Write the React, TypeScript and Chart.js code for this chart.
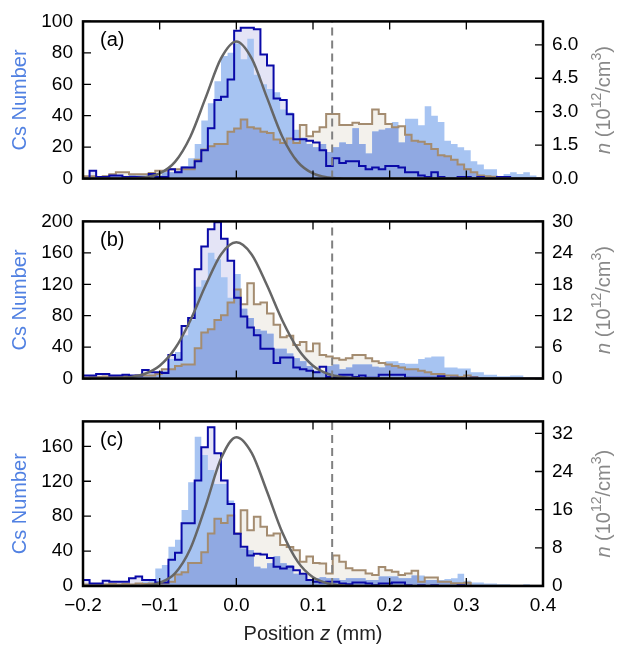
import React, { useEffect, useRef } from 'react';
import { Chart, registerables } from 'chart.js';

Chart.register(...registerables);
Chart.defaults.font.family = '"Liberation Sans", Arial, Helvetica, sans-serif';

// ---------- data ----------
const X_MIN = -0.2;
const X_MAX = 0.4;
const BIN_START = -0.2;
const BIN_WIDTH = 0.6 / 70;
const X_TICKS = [-0.2, -0.1, 0.0, 0.1, 0.2, 0.3, 0.4];
const DASH_X = 0.125;
const PANEL_LABELS = ['(a)', '(b)', '(c)'];

// Panel (a)
const A_CS = [1,2,1,2,3,2,1,3,2,2, 3,2,4,4,5,8,13,22,37,48, 62,78,80,86,76,89,66,60,57,55, 44,42,31,26,22,20,22,17,20,23, 22,32,22,16,30,31,32,36,23,38, 38,34,46,40,36,24,22,20,18,11, 9,6,6,1,3,4,3,4,2,0];
const A_LINE = [0,5,1,1,2,2,1,1,1,1, 3,1,1,6,4,7,7,11,18,32, 50,52,63,94,96,96,95,79,72,51, 50,41,25,25,24,23,18,8,13,10, 11,11,8,6,7,6,8,8,7,4, 4,2,1,4,1,0,0,1,1,0, 1,0,0,1,1,0,0,0,0,0];
const A_N = [0.1,0.1,0.05,0.1,0.2,0.28,0.28,0.2,0.2,0.2, 0.25,0.35,0.35,0.42,0.42,0.42,0.42,0.85,1.3,1.45, 1.55,1.55,2.1,2.25,2.65,2.3,2.25,2.1,2.05,1.75, 1.6,1.8,1.6,2.4,1.9,2.1,2.3,2.9,2.9,2.4, 2.4,2.5,2.45,2.45,3.1,2.9,2.45,2.3,2.35,1.97, 1.7,1.65,1.55,1.33,1.05,1.0,0.84,0.63,0.42,0.28, 0.14,0.1,0.08,0,0,0,0,0,0,0];

// Panel (b)
const B_CS = [1,2,2,3,2,2,3,2,3,5, 6,8,10,25,34,55,75,117,125,160, 152,129,103,133,89,77,63,61,57,38, 38,32,26,22,16,10,8,16,18,12, 14,18,18,18,15,14,22,22,20,19, 19,25,27,28,28,14,14,13,13,8, 8,5,5,3,3,4,4,1,2,0];
const B_LINE = [4,4,6,6,4,4,5,4,4,11, 8,8,7,30,24,67,77,139,168,190, 199,178,150,103,79,65,55,38,38,20, 27,27,14,12,10,8,15,2,2,5, 5,2,4,1,1,5,5,5,5,1, 1,1,1,1,3,0,1,0,0,1, 0,0,0,0,0,0,0,0,0,0];
const B_N = [0.2,0.3,0.3,0.4,0.3,0.4,0.5,0.5,0.6,0.6, 0.6,0.9,1.8,1.8,2.4,2.7,2.7,5.8,8.8,9.4, 11.2,12.1,14.5,17.0,14.2,18.2,14.2,14.5,12.4,10.3, 7.9,8.2,6.4,7.0,5.2,6.7,4.5,4.2,3.9,3.6, 3.9,4.5,4.5,3.9,3.3,3.0,2.7,2.4,2.1,1.8, 1.8,1.5,1.2,0.9,0.9,0.6,0.6,0.3,0.6,0.3, 0.1,0,0,0,0,0,0,0,0,0];

// Panel (c)
const C_CS = [2,3,1,2,2,2,3,1,3,5, 8,20,24,45,53,87,119,171,150,133, 117,117,98,60,43,41,22,20,26,34, 26,24,14,13,7,9,10,9,9,7, 9,9,9,7,7,11,11,11,9,9, 12,12,7,7,7,8,9,14,6,4, 4,3,3,2,2,1,1,2,0,0];
const C_LINE = [7,3,3,6,5,5,5,9,11,7, 7,4,4,30,38,72,72,121,159,182, 152,121,94,60,45,35,37,36,32,22, 20,22,18,14,7,5,4,5,5,3, 2,4,4,3,1,3,3,4,4,1, 0,1,0,1,0,0,0,1,0,0, 0,0,0,0,0,0,0,0,0,0];
const C_N = [0.3,0.3,0.2,0.3,0.4,0.3,0.4,0.3,0.5,0.4, 0.5,0.5,0.6,0.9,2.4,2.9,4.8,4.8,7.1,11, 14.1,13.2,14.8,11,15.9,11.7,14.5,12.4,10.6,11, 8.6,8.2,7.5,5.1,6.2,4.8,4.7,2.6,6.4,5.1, 3.7,3.3,3.3,2.6,2.3,4.0,3.3,3.0,2.3,2.6, 3.2,0.9,1.8,1.8,0.9,0.9,0.6,0.6,0.7,0, 0,0,0,0,0,0,0,0,0,0];

// Gaussian model curves (right-axis units)
const GAUSS_X = [-0.2,-0.16,-0.14,-0.12,-0.1,-0.08,-0.06,-0.04,-0.02,0,0.02,0.04,0.06,0.08,0.1,0.12,0.14,0.16,0.2,0.4];
const A_GAUSS = [0,0,0.01,0.05,0.23,0.75,1.88,3.63,5.39,6.15,5.39,3.63,1.88,0.75,0.23,0.05,0.01,0,0,0];
const B_GAUSS = [0,0.06,0.25,0.87,2.45,5.73,11.1,17.8,23.7,26,23.7,17.8,11.1,5.73,2.45,0.87,0.25,0.06,0,0];
const C_GAUSS = [0,0,0.02,0.12,0.66,2.64,7.8,16.8,26.7,31.2,27.9,19.8,11.2,5.1,1.83,0.53,0.12,0.02,0,0];

// Axis ranges / ticks
const A_LEFT_TICKS = [0, 20, 40, 60, 80, 100];
const A_RIGHT_TICKS = [0, 1.5, 3.0, 4.5, 6.0];
const B_LEFT_TICKS = [0, 40, 80, 120, 160, 200];
const B_RIGHT_TICKS = [0, 6, 12, 18, 24, 30];
const C_LEFT_TICKS = [0, 40, 80, 120, 160];
const C_RIGHT_TICKS = [0, 8, 16, 24, 32];
const A_LEFT_MAX = 100, A_RIGHT_MAX = 7.05;
const B_LEFT_MAX = 200, B_RIGHT_MAX = 30;
const C_LEFT_MAX = 188.6, C_RIGHT_MAX = 34.5;

// Text
const LEFT_TITLE = 'Cs Number';
const RIGHT_TITLE = [
  { t: 'n', italic: true }, { t: ' (10' }, { t: '12', sup: true }, { t: '/cm' }, { t: '3', sup: true }, { t: ')' },
];
const X_TITLE = [{ t: 'Position ' }, { t: 'z', italic: true }, { t: ' (mm)' }];

// ---------- styles ----------
const LAVENDER = '#e4e4f6';
const BEIGE = '#f3f1ec';
const LIGHT_BLUE = '#a7c4f2';
const OVERLAP_BLUE = '#90a9e2';
const BLUE_LINE = '#0a0aa8';
const BROWN_LINE = '#a48c70';
const GAUSS_COLOR = '#666666';
const DASH_COLOR = '#808080';
const LEFT_TITLE_COLOR = '#5181e2';
const RIGHT_TITLE_COLOR = '#888888';
const FONT = '"Liberation Sans", Arial, Helvetica, sans-serif';
const TICK_FONT_SIZE = 19;
const TITLE_FONT_SIZE = 20;

type Part = { t: string; italic?: boolean; sup?: boolean };

function drawRich(ctx: CanvasRenderingContext2D, parts: Part[], cx: number, cy: number, size: number, color: string, rotate: boolean) {
  ctx.save();
  ctx.translate(cx, cy);
  if (rotate) ctx.rotate(-Math.PI / 2);
  const fontOf = (p: Part) => `${p.italic ? 'italic ' : ''}${p.sup ? Math.round(size * 0.7) : size}px ${FONT}`;
  let total = 0;
  const widths = parts.map((p) => {
    ctx.font = fontOf(p);
    const w = ctx.measureText(p.t).width;
    total += w;
    return w;
  });
  let x = -total / 2;
  ctx.fillStyle = color;
  ctx.textBaseline = 'middle';
  ctx.textAlign = 'left';
  parts.forEach((p, i) => {
    ctx.font = fontOf(p);
    ctx.fillText(p.t, x, p.sup ? -size * 0.33 : 0);
    x += widths[i];
  });
  ctx.restore();
}

function stepPoints(values: number[]) {
  const pts: { x: number; y: number }[] = [{ x: BIN_START, y: 0 }];
  values.forEach((v, i) => pts.push({ x: BIN_START + i * BIN_WIDTH, y: v }));
  pts.push({ x: BIN_START + values.length * BIN_WIDTH, y: 0 });
  return pts;
}

function fmtX(v: number) {
  if (Math.abs(v) < 1e-9) return '0.0';
  return (v < 0 ? '\u2212' : '') + Math.abs(v).toFixed(1);
}

const decorPlugin = {
  id: 'panelDecor',
  afterDraw(chart: any, _args: any, opts: any) {
    const ctx: CanvasRenderingContext2D = chart.ctx;
    const { left, right, top, bottom } = chart.chartArea;
    const x = chart.scales.x, yL = chart.scales.yL, yR = chart.scales.yR;
    ctx.save();
    ctx.strokeStyle = '#000';
    ctx.lineWidth = 1.3;
    const TL = 8;
    ctx.beginPath();
    X_TICKS.forEach((v) => {
      const px = x.getPixelForValue(v);
      ctx.moveTo(px, bottom); ctx.lineTo(px, bottom - TL);
      ctx.moveTo(px, top); ctx.lineTo(px, top + TL);
    });
    opts.leftTicks.forEach((v: number) => {
      const py = yL.getPixelForValue(v);
      ctx.moveTo(left, py); ctx.lineTo(left + TL, py);
    });
    opts.rightTicks.forEach((v: number) => {
      const py = yR.getPixelForValue(v);
      ctx.moveTo(right, py); ctx.lineTo(right - TL, py);
    });
    ctx.stroke();
    ctx.lineWidth = 2.5;
    ctx.strokeRect(left, top, right - left, bottom - top);

    ctx.fillStyle = '#000';
    ctx.font = `${TITLE_FONT_SIZE}px ${FONT}`;
    ctx.textAlign = 'left';
    ctx.textBaseline = 'middle';
    ctx.fillText(opts.label, left + 17, top + 19);
    ctx.restore();

    const midY = (top + bottom) / 2;
    drawRich(ctx, [{ t: LEFT_TITLE }], 20, midY, TITLE_FONT_SIZE, LEFT_TITLE_COLOR, true);
    drawRich(ctx, RIGHT_TITLE, 604, midY, TITLE_FONT_SIZE, RIGHT_TITLE_COLOR, true);
    if (opts.showX) {
      drawRich(ctx, X_TITLE, (left + right) / 2, bottom + 48, TITLE_FONT_SIZE, '#222', false);
    }
  },
};

type PanelCfg = {
  label: string;
  cs: number[]; line: number[]; n: number[]; gauss: number[];
  leftMax: number; rightMax: number; leftTicks: number[]; rightTicks: number[];
  rightFmt: (v: number) => string;
  top: number; height: number; padTop: number; padBottom: number; showX: boolean;
};

const PANELS: PanelCfg[] = [
  { label: PANEL_LABELS[0], cs: A_CS, line: A_LINE, n: A_N, gauss: A_GAUSS, leftMax: A_LEFT_MAX, rightMax: A_RIGHT_MAX, leftTicks: A_LEFT_TICKS, rightTicks: A_RIGHT_TICKS, rightFmt: (v) => v.toFixed(1), top: 0, height: 200, padTop: 19, padBottom: 15, showX: false },
  { label: PANEL_LABELS[1], cs: B_CS, line: B_LINE, n: B_N, gauss: B_GAUSS, leftMax: B_LEFT_MAX, rightMax: B_RIGHT_MAX, leftTicks: B_LEFT_TICKS, rightTicks: B_RIGHT_TICKS, rightFmt: (v) => String(v), top: 200, height: 200, padTop: 20, padBottom: 15, showX: false },
  { label: PANEL_LABELS[2], cs: C_CS, line: C_LINE, n: C_N, gauss: C_GAUSS, leftMax: C_LEFT_MAX, rightMax: C_RIGHT_MAX, leftTicks: C_LEFT_TICKS, rightTicks: C_RIGHT_TICKS, rightFmt: (v) => String(v), top: 400, height: 252, padTop: 20, padBottom: 0, showX: true },
];

function Panel({ cfg }: { cfg: PanelCfg }) {
  const ref = useRef<HTMLCanvasElement>(null);
  useEffect(() => {
    const canvas = ref.current!;
    const ratio = cfg.leftMax / cfg.rightMax;
    const overlap = cfg.cs.map((v, i) => Math.min(v, cfg.n[i] * ratio));
    const none = 'rgba(0,0,0,0)';
    const base = { pointRadius: 0, stepped: 'before' as const, tension: 0 };
    const chart = new Chart(canvas, {
      type: 'line',
      data: {
        datasets: [
          { ...base, data: stepPoints(cfg.line), yAxisID: 'yL', fill: 'origin', backgroundColor: LAVENDER, borderColor: none, borderWidth: 0, order: 8 },
          { ...base, data: stepPoints(cfg.n), yAxisID: 'yR', fill: 'origin', backgroundColor: BEIGE, borderColor: none, borderWidth: 0, order: 7 },
          { ...base, data: stepPoints(cfg.cs), yAxisID: 'yL', fill: 'origin', backgroundColor: LIGHT_BLUE, borderColor: none, borderWidth: 0, order: 6 },
          { ...base, data: stepPoints(overlap), yAxisID: 'yL', fill: 'origin', backgroundColor: OVERLAP_BLUE, borderColor: none, borderWidth: 0, order: 5 },
          { ...base, data: stepPoints(cfg.n), yAxisID: 'yR', fill: false, borderColor: BROWN_LINE, borderWidth: 2, order: 4 },
          { ...base, data: stepPoints(cfg.line), yAxisID: 'yL', fill: false, borderColor: BLUE_LINE, borderWidth: 2, order: 3 },
          { pointRadius: 0, data: GAUSS_X.map((x, i) => ({ x, y: cfg.gauss[i] })), yAxisID: 'yR', fill: false, borderColor: GAUSS_COLOR, borderWidth: 2.5, cubicInterpolationMode: 'monotone', order: 2 },
          { pointRadius: 0, data: [{ x: DASH_X, y: 0 }, { x: DASH_X, y: cfg.leftMax }], yAxisID: 'yL', fill: false, borderColor: DASH_COLOR, borderWidth: 2, borderDash: [8, 5], order: 1 },
        ] as any,
      },
      options: {
        animation: false,
        responsive: false,
        maintainAspectRatio: false,
        events: [],
        layout: { padding: { top: cfg.padTop, bottom: cfg.padBottom, left: 0, right: 0 } },
        plugins: {
          legend: { display: false },
          tooltip: { enabled: false },
          panelDecor: { label: cfg.label, leftTicks: cfg.leftTicks, rightTicks: cfg.rightTicks, showX: cfg.showX },
        } as any,
        scales: {
          x: {
            type: 'linear', min: X_MIN, max: X_MAX, display: cfg.showX,
            grid: { display: false, drawTicks: false }, border: { display: false },
            ticks: { padding: 8, color: '#000', font: { size: TICK_FONT_SIZE }, maxRotation: 0, autoSkip: false, callback: (v: any) => fmtX(Number(v)) },
            afterBuildTicks: (s: any) => { s.ticks = X_TICKS.map((v) => ({ value: v })); },
            afterFit: (s: any) => { s.height = cfg.showX ? 66 : 0; },
          },
          yL: {
            type: 'linear', position: 'left', min: 0, max: cfg.leftMax,
            grid: { display: false, drawTicks: false }, border: { display: false },
            ticks: { padding: 10, color: '#000', autoSkip: false, font: { size: TICK_FONT_SIZE }, callback: (v: any) => String(v) },
            afterBuildTicks: (s: any) => { s.ticks = cfg.leftTicks.map((v) => ({ value: v })); },
            afterFit: (s: any) => { s.width = 83; },
          },
          yR: {
            type: 'linear', position: 'right', min: 0, max: cfg.rightMax,
            grid: { display: false, drawTicks: false }, border: { display: false },
            ticks: { padding: 9, color: '#000', autoSkip: false, font: { size: TICK_FONT_SIZE }, callback: (v: any) => cfg.rightFmt(Number(v)) },
            afterBuildTicks: (s: any) => { s.ticks = cfg.rightTicks.map((v) => ({ value: v })); },
            afterFit: (s: any) => { s.width = 77; },
          },
        } as any,
      },
      plugins: [decorPlugin as any],
    });
    return () => chart.destroy();
  }, [cfg]);
  return (
    <canvas
      ref={ref}
      width={620}
      height={cfg.height}
      style={{ position: 'absolute', left: 0, top: cfg.top, width: 620, height: cfg.height }}
    />
  );
}

export default function App() {
  return (
    <div style={{ position: 'absolute', left: 0, top: 0, width: 620, height: 652, background: '#fff', overflow: 'hidden' }}>
      {PANELS.map((p) => (
        <Panel key={p.label} cfg={p} />
      ))}
    </div>
  );
}
